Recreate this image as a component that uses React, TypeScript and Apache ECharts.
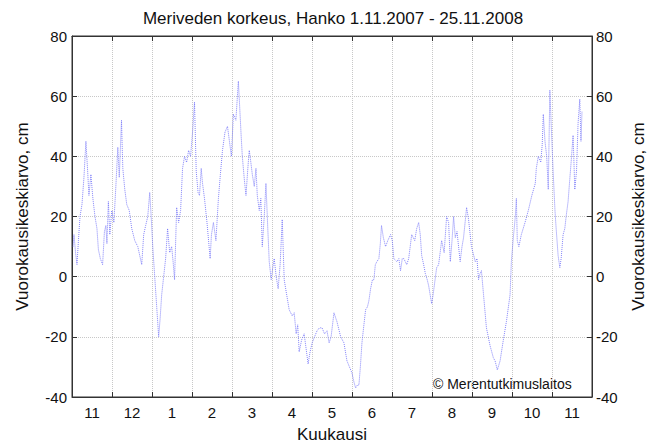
import React, { useEffect, useRef } from "react";
import * as echarts from "echarts";

const titleText = "Meriveden korkeus, Hanko 1.11.2007 - 25.11.2008";
const monthLabels = ["11", "12", "1", "2", "3", "4", "5", "6", "7", "8", "9", "10", "11"];
const yTicks = { min: -40, max: 80, interval: 20 };
// day offset from 1.11.2007
const days = [
  0.8, 1.5, 2.7, 3.8, 4.9, 6.1, 7.6, 9.1, 10.6, 11.8, 12.9, 14.4, 15.9, 17.5, 19, 20.1, 21.6, 23.3, 24.7, 25.8,
  26.6, 27.7, 28.8, 30.3, 31.9, 33.4, 34.9, 36, 37.7, 38.7, 40.2, 41.7, 43.6, 45.5, 47.8, 50.1, 53.1, 54.6, 56.1, 57.7,
  59.2, 60.3, 61.5, 63, 64.5, 66, 67.1, 68.3, 69.8, 71.3, 72.8, 74.4, 75.9, 77, 78.1, 79.7, 81.2, 82.7, 84.2, 85.7,
  87.3, 88.8, 90.3, 91.8, 93.3, 94.6, 96, 97.1, 98.4, 99.4, 100.9, 102.8, 105.2, 106.2, 107.7, 109.6, 111.5, 113, 114.6, 116.5,
  118.4, 119.9, 121.4, 122.9, 124.8, 126.7, 128.8, 129.7, 131.3, 132.5, 133.9, 135, 136.2, 137.3, 138.8, 140.1, 141.1, 142.6, 143.8, 144.9,
  146.4, 147.7, 149.1, 150.2, 151.7, 152.9, 154, 155.5, 157, 158.5, 160.1, 161.6, 163.1, 165.4, 167.7, 169.2, 170.7, 171.9, 173, 174.9,
  176.8, 178.3, 179.8, 181.3, 182.9, 184.7, 186.6, 188.5, 190.4, 192.3, 194.2, 195.8, 197.3, 199.5, 201.8, 204.6, 207.1, 209.4, 211.3, 213.2,
  214.7, 216, 217.4, 218.5, 219.6, 220.8, 222.3, 223.6, 225, 226.1, 227.4, 228.8, 229.9, 231, 232.2, 233.7, 234.8, 235.7, 237.1, 238.8,
  240.5, 242.6, 243.9, 245.1, 247.3, 248.9, 250.2, 251.5, 252.7, 254.9, 256.4, 258.7, 261, 262.5, 264, 265.2, 266.3, 267.8, 269.1, 270.5,
  271.6, 273.9, 275, 276.2, 277.7, 279.2, 281.5, 283.4, 285.3, 286.8, 288.1, 289.4, 290.6, 291.9, 293.2, 294.4, 295.6, 297, 298.2, 300.5,
  302, 304.2, 307.1, 308.4, 309.6, 310.7, 311.8, 313.4, 315.6, 318.4, 320.9, 322.2, 323.9, 326, 328.5, 330.8, 333.6, 334.6, 336.1, 337.6,
  338.4, 339.1, 340.3, 342.2, 345, 347.5, 350.2, 352.8, 353.6, 355.1, 357, 358.1, 358.9, 360.2, 361.5, 362.7, 363.9, 364.9, 366.4, 367.8,
  368.7, 370.2, 371.5, 372.5, 374, 375.3, 376.3, 377.8, 379, 380.1, 381.6, 382.9, 384.2, 385.4, 386.7, 387.6, 388.4,
];
const levels = [
  10, 14, 8, 4, 12, 20, 24, 33, 45, 36, 27, 34, 26, 20, 16, 9, 6, 4, 15, 17,
  11, 25, 14, 22, 18, 30, 43, 33, 52, 36, 29, 24, 22, 16, 12, 10, 4, 14, 17, 20,
  28, 20, 10, 0, -10, -20, -14, -6, 0, 6, 16, 8, 10, 5, -1, 23, 18, 22, 36, 40,
  38, 42, 40, 48, 58, 35, 28, 27, 36, 31, 26, 18, 6, 14, 18, 12, 26, 34, 42, 48,
  50, 45, 40, 54, 52, 65, 47, 40, 32, 27, 36, 42, 38, 34, 30, 36, 27, 22, 26, 10,
  20, 31, 16, 5, -1, 3, 6, 0, -4, 4, 19, -1, -5, -11, -13, -12, -19, -16, -25, -21,
  -19, -24, -29, -25, -22, -20, -18, -17, -17, -19, -18, -22, -20, -12, -15, -20, -22, -28, -30, -32,
  -35, -37, -36, -36, -30, -22, -16, -11, -10, -8, -4, -1, -1, 4, 5, 6, 11, 17, 13, 10,
  12, 14, 12, 6, 5, 6, 2, 6, 6, 4, 6, 14, 12, 16, 18, 14, 7, 4, 1, -1,
  -3, -9, -6, -2, 3, 4, 12, 8, 20, 18, 5, 12, 20, 13, 15, 10, 5, 10, 13, 23,
  19, 10, 5, 6, -1, 1, 2, -6, -17, -23, -27, -28, -31, -28, -21, -15, -6, 5, 13, 20,
  26, 12, 10, 14, 18, 22, 27, 31, 36, 40, 38, 44, 54, 45, 40, 29, 62, 51, 35, 22,
  16, 7, 3, 6, 14, 16, 20, 25, 32, 38, 47, 29, 35, 51, 59, 45, 55,
];
const totalDays = 396;
const yName = "Vuorokausikeskiarvo, cm";
const xName = "Kuukausi";
const credit = "© Merentutkimuslaitos";

const FONT = "Liberation Sans, Arial, sans-serif";

export default function App() {
  const ref = useRef<HTMLDivElement>(null);
  useEffect(() => {
    if (!ref.current) return;
    const chart = echarts.init(ref.current, undefined, { renderer: "svg" });
    const grid = { left: 72, right: 61, top: 36, bottom: 44 };
    const gridLine = { show: true, lineStyle: { type: "dotted" as const, color: "#c8c8c8", width: 1 } };
    const tick = { show: true, inside: true, length: 5, lineStyle: { color: "#333" } };
    const label = { color: "#111", fontSize: 15, fontFamily: FONT };
    chart.setOption({
      animation: false,
      backgroundColor: "#fff",
      grid: { ...grid, show: true, borderColor: "#333", borderWidth: 1, containLabel: false },
      graphic: [
        {
          type: "text",
          x: 333,
          y: 18,
          style: { text: titleText, fontSize: 17, fontFamily: FONT, fill: "#111", textAlign: "center", textVerticalAlign: "middle" },
        },
        {
          type: "text",
          x: 433,
          y: 384,
          style: { text: credit, fontSize: 14, fontFamily: FONT, fill: "#111", textAlign: "left", textVerticalAlign: "middle" },
        },
      ],
      xAxis: [
        {
          type: "category",
          data: monthLabels,
          position: "bottom",
          boundaryGap: true,
          axisLine: { show: true, onZero: false, lineStyle: { color: "#333" } },
          axisTick: { ...tick, interval: 0, alignWithLabel: false },
          axisLabel: { ...label, interval: 0, margin: 8 },
          splitLine: { ...gridLine, interval: 0 },
          name: xName,
          nameLocation: "middle",
          nameGap: 29,
          nameTextStyle: { ...label, fontSize: 17 },
        },
        {
          type: "category",
          data: monthLabels,
          position: "top",
          boundaryGap: true,
          axisLine: { show: true, onZero: false, lineStyle: { color: "#333" } },
          axisTick: { ...tick, interval: 0 },
          axisLabel: { show: false },
          splitLine: { show: false },
        },
        {
          type: "value",
          min: 0,
          max: totalDays,
          position: "bottom",
          axisLine: { onZero: false },
          show: false,
        },
      ],
      yAxis: [
        {
          type: "value",
          position: "left",
          ...yTicks,
          axisLine: { show: true, onZero: false, lineStyle: { color: "#333" } },
          axisTick: tick,
          axisLabel: { ...label, margin: 5 },
          splitLine: gridLine,
          name: yName,
          nameLocation: "middle",
          nameRotate: 90,
          nameGap: 41,
          nameTextStyle: { ...label, fontSize: 17 },
        },
        {
          type: "value",
          position: "right",
          ...yTicks,
          axisLine: { show: true, onZero: false, lineStyle: { color: "#333" } },
          axisTick: tick,
          axisLabel: { ...label, margin: 4 },
          splitLine: { show: false },
          name: yName,
          nameLocation: "middle",
          nameRotate: 90,
          nameGap: 38,
          nameTextStyle: { ...label, fontSize: 17 },
        },
      ],
      series: [
        {
          type: "line",
          xAxisIndex: 2,
          yAxisIndex: 0,
          data: days.map((d, i) => [d, levels[i]]),
          showSymbol: false,
          symbol: "none",
          lineStyle: { type: "dotted", width: 1, color: "#6f6ff8", opacity: 0.85 },
        },
      ],
    });
    return () => chart.dispose();
  }, []);
  return <div ref={ref} style={{ position: "fixed", left: 0, top: 0, width: 655, height: 448, background: "#fff" }} />;
}
